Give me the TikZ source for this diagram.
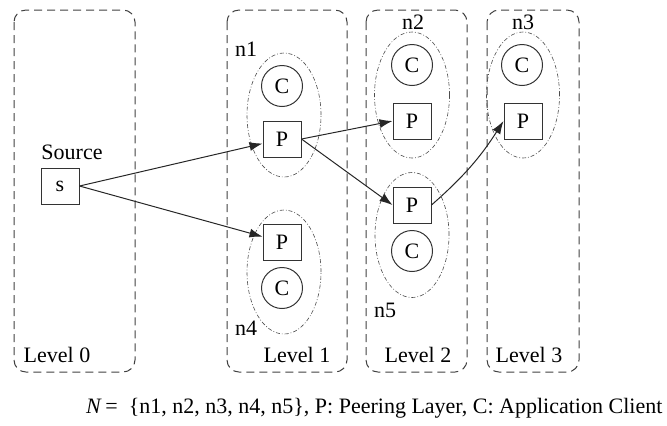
\documentclass[tikz,border=0pt]{standalone}
\usepackage{fontspec}
\setmainfont{Liberation Serif}
\newfontfamily\tmsfont{Liberation Serif}
\usetikzlibrary{shapes.geometric,arrows.meta}

\begin{document}
\begin{tikzpicture}[
     x=0.5pt,y=-0.5pt,
     font=\tmsfont\fontsize{11}{12}\selectfont,
     lvlbox/.style={draw=black!75,line width=0.5pt,dash pattern=on 4pt off 2.5pt,rounded corners=6pt},
     peer/.style={draw=black!80,line width=0.5pt,minimum width=19pt,minimum height=18pt,inner sep=0pt},
     client/.style={circle,draw=black!80,line width=0.5pt,minimum size=20.5pt,inner sep=0pt},
     grp/.style={ellipse,draw=black!70,line width=0.3pt,dash pattern=on 2pt off 1pt on 0.4pt off 1pt,
       minimum width=37pt,minimum height=62pt,inner sep=0pt},
     link/.style={-{Latex[length=6.5pt,width=4.5pt]},black!85,line width=0.5pt}
   ]
   \useasboundingbox (0,0) rectangle (667,425);
   % Levels.
   \draw[lvlbox] (14,10) rectangle (135,372);
   \draw[lvlbox] (227,10) rectangle (347,372);
   \draw[lvlbox] (366,10) rectangle (467,372);
   \draw[lvlbox] (487,10) rectangle (579,372);
   \node (lv0) at (57,355) {Level 0};
   \node (lv1) at (297,355) {Level 1};
   \node (lv2) at (418,355) {Level 2};
   \node (lv3) at (529,355) {Level 3};
   % Node groups.
   \node[grp] (g1) at (284,115) {};
   \node[grp] (g4) at (284,272) {};
   \node[grp,minimum width=37.5pt,minimum height=63pt] (g2) at (412,95) {};
   \node[grp,minimum width=36.5pt,minimum height=63pt] (g3) at (523,95) {};
   \node[grp,minimum height=62.5pt] (g5) at (412,235) {};
   \node (n1) at (246,49) {n1};
   \node (n2) at (413,22) {n2};
   \node (n3) at (523,22) {n3};
   \node (n4) at (246,328) {n4};
   \node (n5) at (385,310) {n5};
   % Peers and clients.
   \node[peer] (s) at (60,186) {s};
   \node (src) at (72,152) {Source};
   \node[client] (c1) at (282,86) {C};
   \node[peer] (p1) at (282,139) {P};
   \node[peer] (p4) at (282,242) {P};
   \node[client] (c4) at (282,288) {C};
   \node[client] (c2) at (412,65) {C};
   \node[peer] (p2) at (412,121) {P};
   \node[client] (c3) at (522,65) {C};
   \node[peer] (p3) at (523,121) {P};
   \node[peer] (p5) at (412,205) {P};
   \node[client] (c5) at (412,251) {C};
   % Links.
   \draw[link] (s.east) -- (p1);
   \draw[link] (s.east) -- (p4);
   \draw[link] (p1.east) -- (p2.west);
   \draw[link] (p1.east) -- (p5.west);
   \draw[link] (p5.east) to[bend right=8] (p3.west);
   % Caption.
   \node[anchor=west] (cap) at (79,408) {\textit{N}\,=\ \ \{n1, n2, n3, n4, n5\}, P: Peering Layer, C: Application Client};
 \end{tikzpicture}
\end{document}
